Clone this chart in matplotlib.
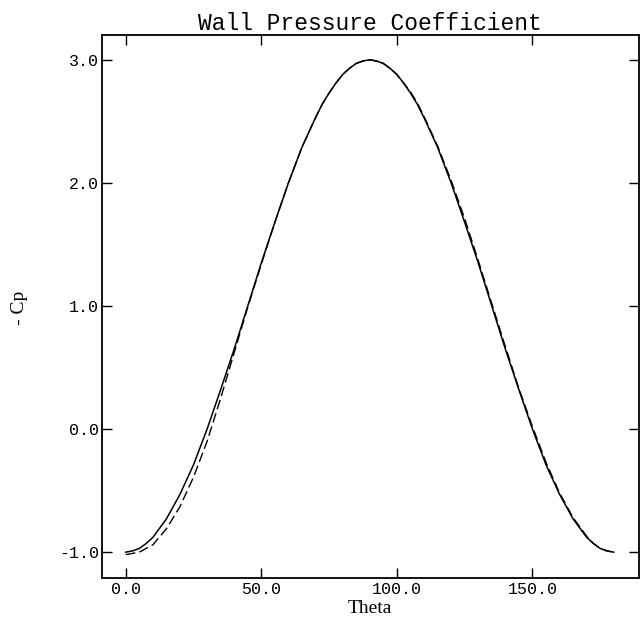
import matplotlib
matplotlib.use("Agg")
import matplotlib.pyplot as plt

# angle around the wall (degrees)
theta = [0, 2.5, 5, 7.5, 10, 15, 20, 25, 30, 35, 40, 45, 50, 55, 60, 65, 70,
         72.5, 75, 77.5, 80, 82.5, 85, 87.5, 90, 92.5, 95, 97.5, 100, 102.5,
         105, 107.5, 110, 115, 120, 125, 130, 135, 140, 145, 150, 155, 160,
         165, 170, 172.5, 175, 177.5, 180]

# -Cp, solid curve
cp_solid = [-1.00, -0.99, -0.97, -0.93, -0.88, -0.73, -0.53, -0.29, 0.00, 0.32,
            0.65, 1.00, 1.35, 1.68, 2.00, 2.29, 2.53,
            2.64, 2.73, 2.81, 2.88, 2.93, 2.97, 2.99, 3.00, 2.99, 2.97, 2.93,
            2.88, 2.81, 2.73, 2.64, 2.53, 2.29, 2.00, 1.68, 1.35, 1.00, 0.65,
            0.32, 0.00, -0.29, -0.53, -0.73, -0.88, -0.93, -0.97, -0.99, -1.00]

# -Cp, dashed curve
cp_dashed = [-1.02, -1.01, -1.00, -0.97, -0.94, -0.81, -0.63, -0.39, -0.10, 0.25,
             0.62, 0.99, 1.34, 1.68, 2.00, 2.29, 2.53,
             2.64, 2.73, 2.81, 2.88, 2.93, 2.97, 2.99, 3.00, 2.99, 2.97, 2.93,
             2.88, 2.81, 2.74, 2.65, 2.54, 2.30, 2.02, 1.71, 1.37, 1.02, 0.67,
             0.33, 0.02, -0.27, -0.52, -0.72, -0.87, -0.93, -0.97, -0.99, -1.00]

xticks = [0, 50, 100, 150]
xtick_labels = ["0.0", "50.0", "100.0", "150.0"]
yticks = [-1, 0, 1, 2, 3]
ytick_labels = ["-1.0", "0.0", "1.0", "2.0", "3.0"]

mono = "Liberation Mono"
serif = "Liberation Serif"

fig = plt.figure(figsize=(6.4, 6.24), dpi=100)
ax = fig.add_axes([0.159, 0.0737, 0.839, 0.870])

ax.plot(theta, cp_solid, color="black", lw=1.1)
ax.plot(theta, cp_dashed, color="black", lw=1.0, dashes=(7, 3))

ax.set_xlim(-8.85, 189.2)
ax.set_ylim(-1.21, 3.20)

ax.set_xticks(xticks)
ax.set_xticklabels(xtick_labels, fontfamily=mono, fontsize=12)
ax.set_yticks(yticks)
ax.set_yticklabels(ytick_labels, fontfamily=mono, fontsize=12)
ax.tick_params(direction="in", top=True, right=True, length=7, width=1.0)
ax.tick_params(axis="x", pad=3)
ax.tick_params(axis="y", pad=2)

for s in ax.spines.values():
    s.set_linewidth(1.3)

ax.set_title("Wall Pressure Coefficient", fontfamily=mono, fontsize=16.5, pad=4)
ax.set_xlabel("Theta", fontfamily=serif, fontsize=14, labelpad=2)
fig.text(19 / 640, 1 - 308 / 624, "- Cp", fontfamily=serif, fontsize=14,
         rotation=90, ha="center", va="center")

fig.savefig("out.png", dpi=100)
